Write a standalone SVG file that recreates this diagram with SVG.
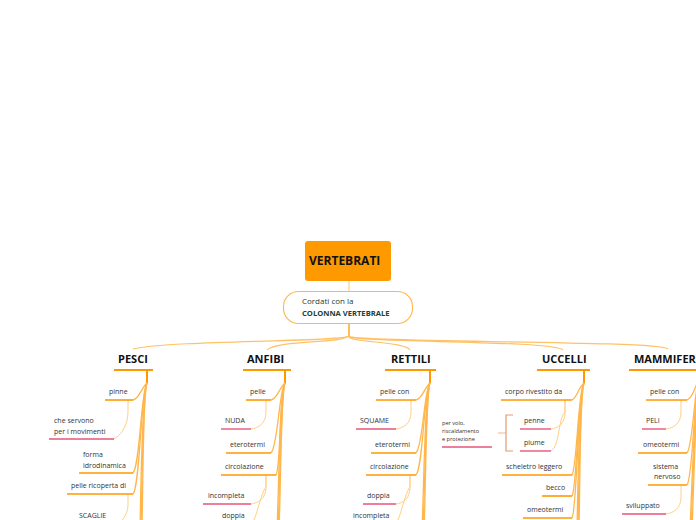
<svg xmlns="http://www.w3.org/2000/svg" width="696" height="520" viewBox="0 0 696 520">
<style>
.br{fill:none;stroke:#FFC165;stroke-width:1.2}
.sp{fill:none;stroke:#FFB74D;stroke-width:1.3}
.sub{fill:none;stroke:#FFCF87;stroke-width:1}
.cu{stroke:#FF9800;stroke-width:2}
.ul{stroke:#FF9800;stroke-width:1.6}
.pk{stroke:#E8557A;stroke-width:1.4}
.cat{font-family:"Open Sans","DejaVu Sans",sans-serif;font-size:11px;font-weight:bold;fill:#111}
.lf{font-family:"Open Sans","DejaVu Sans",sans-serif;font-size:7px;fill:#333}
.sm{font-family:"Open Sans","DejaVu Sans",sans-serif;font-size:5.6px;fill:#333}
</style>
<rect width="696" height="520" fill="#fff"/>
<g id="connectors">
<line x1="349" y1="281" x2="349" y2="291" stroke="#FFCC80" stroke-width="1.2"/>
<line x1="349" y1="323" x2="349" y2="336" stroke="#FFA726" stroke-width="1.5"/>
<path class="br" d="M348,336 C346,342 170,340 133,349"/>
<path class="br" d="M348,336 C347,343 275,340 267,350"/>
<path class="br" d="M348,336 C349,343 405,341 410,350"/>
<path class="br" d="M348,336 C350,343 555,340 563,350"/>
<path class="br" d="M348,336 C350,343 660,340 668,349"/>
<!-- PESCI -->
<line class="cu" x1="147" y1="370" x2="147" y2="383"/>
<path class="sp" d="M147,383 C141,388 140,398 133,400"/>
<path class="sp" d="M147,383 C141,390 140,466 133,473"/>
<path class="sp" d="M147,383 C141,390 140,487 133,494"/>
<path class="sp" d="M147,383 C142,392 141,480 140,530"/>
<path class="sp" d="M147,383 C143,392 142,480 141,530"/>
<path class="sp" d="M147,383 C143,392 143,480 142,530"/>
<path class="sub" d="M128,400 V412 C128,426 120,437 113,439"/>
<path class="sub" d="M128,494 V505 C128,515 120,524 114,528"/>
<!-- ANFIBI -->
<line class="cu" x1="285" y1="370" x2="285" y2="383"/>
<path class="sp" d="M285,383 C279,388 278,398 271,400"/>
<path class="sp" d="M285,383 C279,390 278,446 271,453"/>
<path class="sp" d="M285,383 C279,390 281,468 276,475"/>
<path class="sp" d="M285,383 C280,392 279,480 277,530"/>
<path class="sp" d="M285,383 C281,392 280,480 278,530"/>
<path class="sp" d="M285,383 C281,392 281,480 279,530"/>
<path class="sub" d="M266,400 V412 C266,424 258,428 251,429"/>
<path class="sub" d="M266,475 V487 C266,499 258,503 251,504"/>
<path class="sub" d="M266,475 V487 C260,495 258,515 250,528"/>
<!-- RETTILI -->
<line class="cu" x1="430" y1="370" x2="430" y2="383"/>
<path class="sp" d="M430,383 C424,388 423,398 416,400"/>
<path class="sp" d="M430,383 C424,390 423,446 416,453"/>
<path class="sp" d="M430,383 C424,390 423,468 416,475"/>
<path class="sp" d="M430,383 C425,392 424,480 422,530"/>
<path class="sp" d="M430,383 C426,392 425,480 423,530"/>
<path class="sp" d="M430,383 C426,392 426,480 424,530"/>
<path class="sub" d="M411,400 V412 C411,424 403,428 396,429"/>
<path class="sub" d="M410,475 V487 C410,499 403,503 396,504"/>
<path class="sub" d="M410,475 V487 C404,495 402,515 394,528"/>
<!-- UCCELLI -->
<line class="cu" x1="584" y1="370" x2="584" y2="383"/>
<path class="sp" d="M584,383 C578,388 577,398 572,400"/>
<path class="sp" d="M584,383 C578,390 577,468 572,475"/>
<path class="sp" d="M584,383 C578,390 577,489 572,496"/>
<path class="sp" d="M584,383 C578,390 577,511 572,518"/>
<path class="sp" d="M584,383 C579,392 578,480 577,530"/>
<path class="sp" d="M584,383 C580,392 579,480 578,530"/>
<path class="sp" d="M584,383 C580,392 580,480 579,530"/>
<path class="sub" d="M565,400 V412 C565,424 558,428 551,429"/>
<path class="sub" d="M565,400 V412 C558,418 560,446 551,451"/>
<!-- MAMMIFER -->
<path class="sp" d="M699,380 C694,388 693,398 687,400"/>
<path class="sp" d="M699,380 C694,390 693,446 687,453"/>
<path class="sp" d="M699,380 C694,390 693,478 687,485"/>
<path class="sp" d="M699,380 C695,392 692,480 690,530"/>
<path class="sp" d="M699,380 C696,392 693,480 691,530"/>
<path class="sp" d="M699,380 C696,392 694,480 692,530"/>
<path class="sub" d="M681,400 V412 C681,424 673,428 666,429"/>
<path class="sub" d="M681,485 V497 C681,509 673,513 666,514"/>
<!-- bracket -->
<line x1="498" y1="433" x2="506" y2="433" stroke="#F7CBAE" stroke-width="1.4"/>
<path d="M513,415 H506 V451 H513" fill="none" stroke="#E39B73" stroke-width="1.2"/>
</g>
<g id="root">
<rect x="305" y="241" width="86" height="40" rx="3" fill="#FF9900"/>
<text x="309" y="265" font-family="Open Sans, DejaVu Sans, sans-serif" font-size="12" font-weight="bold" fill="#111">VERTEBRATI</text>
</g>
<g id="cordati">
<rect x="283.5" y="291.5" width="129" height="32" rx="15" fill="#fff" stroke="#FFB74D" stroke-width="1.1"/>
<text x="302" y="304" font-family="Open Sans, DejaVu Sans, sans-serif" font-size="8" fill="#1E4032">Cordati con la</text>
<text x="302" y="316" font-family="Open Sans, DejaVu Sans, sans-serif" font-size="7.6" font-weight="bold" fill="#1E4032">COLONNA VERTEBRALE</text>
</g>
<g id="pesci"><text class="cat" x="118" y="363">PESCI</text><line class="cu" x1="114" y1="370" x2="153" y2="370"/></g>
<g id="anfibi"><text class="cat" x="247" y="363">ANFIBI</text><line class="cu" x1="243" y1="370" x2="291" y2="370"/></g>
<g id="rettili"><text class="cat" x="391" y="363">RETTILI</text><line class="cu" x1="385" y1="370" x2="436" y2="370"/></g>
<g id="uccelli"><text class="cat" x="542" y="363">UCCELLI</text><line class="cu" x1="537" y1="370" x2="590" y2="370"/></g>
<g id="mammiferi"><text class="cat" x="634" y="363">MAMMIFER</text><line class="cu" x1="629" y1="370" x2="696" y2="370"/></g>
<!-- PESCI leaves -->
<g id="pinne"><text class="lf" x="109" y="394">pinne</text><line class="ul" x1="105" y1="400" x2="133" y2="400"/></g>
<g id="servono"><text class="lf" x="54" y="423">che servono</text><text class="lf" x="54" y="434">per i movimenti</text><line class="pk" x1="49" y1="439" x2="114" y2="439"/></g>
<g id="forma"><text class="lf" x="83" y="457">forma</text><text class="lf" x="83" y="468">idrodinamica</text><line class="ul" x1="79" y1="473" x2="133" y2="473"/></g>
<g id="pelleric"><text class="lf" x="71" y="488">pelle ricoperta di</text><line class="ul" x1="67" y1="494" x2="133" y2="494"/></g>
<g id="scaglie"><text class="lf" x="79" y="518">SCAGLIE</text></g>
<!-- ANFIBI leaves -->
<g id="a-pelle"><text class="lf" x="250" y="394">pelle</text><line class="ul" x1="246" y1="400" x2="271" y2="400"/></g>
<g id="nuda"><text class="lf" x="225" y="423">NUDA</text><line class="pk" x1="221" y1="429" x2="251" y2="429"/></g>
<g id="a-etero"><text class="lf" x="230" y="447">eterotermi</text><line class="ul" x1="226" y1="453" x2="271" y2="453"/></g>
<g id="a-circ"><text class="lf" x="225" y="469">circolazione</text><line class="ul" x1="221" y1="475" x2="276" y2="475"/></g>
<g id="a-incomp"><text class="lf" x="208" y="498">incompleta</text><line class="pk" x1="203" y1="504" x2="251" y2="504"/></g>
<g id="a-doppia"><text class="lf" x="222" y="518">doppia</text></g>
<!-- RETTILI leaves -->
<g id="r-pelle"><text class="lf" x="380" y="394">pelle con</text><line class="ul" x1="376" y1="400" x2="416" y2="400"/></g>
<g id="squame"><text class="lf" x="360" y="423">SQUAME</text><line class="pk" x1="356" y1="429" x2="396" y2="429"/></g>
<g id="r-etero"><text class="lf" x="375" y="447">eterotermi</text><line class="ul" x1="371" y1="453" x2="416" y2="453"/></g>
<g id="r-circ"><text class="lf" x="370" y="469">circolazione</text><line class="ul" x1="366" y1="475" x2="416" y2="475"/></g>
<g id="r-doppia"><text class="lf" x="367" y="498">doppia</text><line class="pk" x1="363" y1="504" x2="396" y2="504"/></g>
<g id="r-incomp"><text class="lf" x="353" y="518">incompleta</text></g>
<!-- UCCELLI leaves -->
<g id="corpo"><text class="lf" x="505" y="394">corpo rivestito da</text><line class="ul" x1="501" y1="400" x2="572" y2="400"/></g>
<g id="penne"><text class="lf" x="524" y="423">penne</text><line class="pk" x1="520" y1="429" x2="551" y2="429"/></g>
<g id="piume"><text class="lf" x="524" y="445">piume</text><line class="pk" x1="520" y1="451" x2="551" y2="451"/></g>
<g id="pervolo"><text class="sm" x="442" y="425">per volo,</text><text class="sm" x="442" y="433">riscaldamento</text><text class="sm" x="442" y="441">e protezione</text><line class="pk" x1="442" y1="447" x2="492" y2="447"/></g>
<g id="scheletro"><text class="lf" x="506" y="469">scheletro leggero</text><line class="ul" x1="502" y1="475" x2="572" y2="475"/></g>
<g id="becco"><text class="lf" x="546" y="490">becco</text><line class="ul" x1="542" y1="496" x2="572" y2="496"/></g>
<g id="u-omeo"><text class="lf" x="527" y="512">omeotermi</text><line class="ul" x1="523" y1="518" x2="572" y2="518"/></g>
<!-- MAMMIFERI leaves -->
<g id="m-pelle"><text class="lf" x="650" y="394">pelle con</text><line class="ul" x1="646" y1="400" x2="687" y2="400"/></g>
<g id="peli"><text class="lf" x="646" y="423">PELI</text><line class="pk" x1="642" y1="429" x2="666" y2="429"/></g>
<g id="m-omeo"><text class="lf" x="643" y="447">omeotermi</text><line class="ul" x1="638" y1="453" x2="687" y2="453"/></g>
<g id="sistema"><text class="lf" x="653" y="469">sistema</text><text class="lf" x="654" y="479">nervoso</text><line class="ul" x1="648" y1="485" x2="687" y2="485"/></g>
<g id="sviluppato"><text class="lf" x="626" y="508">sviluppato</text><line class="pk" x1="622" y1="514" x2="666" y2="514"/></g>
</svg>
